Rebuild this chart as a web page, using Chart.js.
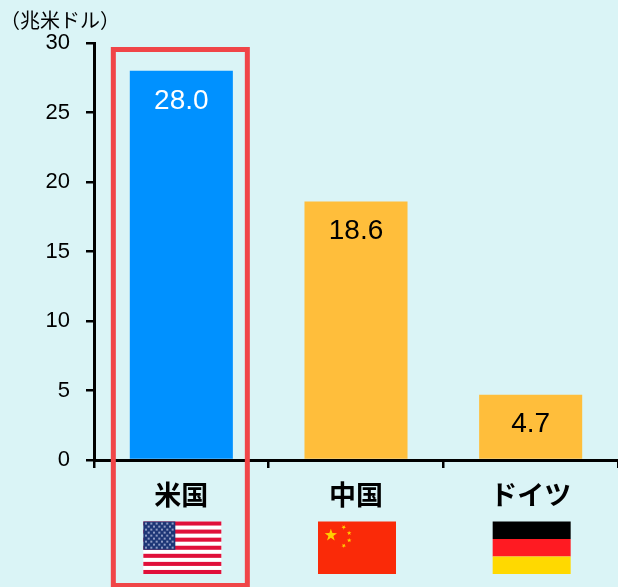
<!DOCTYPE html>
<html>
<head>
<meta charset="utf-8">
<script src="https://cdn.jsdelivr.net/npm/chart.js@4"></script>
<style>
  html, body { margin: 0; padding: 0; background: #daf4f6; }
  canvas { display: block; }
</style>
</head>
<body>
<canvas id="chart" width="618" height="587"></canvas>
<script>
const countries = ['米国', '中国', 'ドイツ'];
const gdpValues = [28.0, 18.6, 4.7];
const barColors = ['#0091ff', '#ffbe3b', '#ffbe3b'];
const labelColors = ['#ffffff', '#000000', '#000000'];
const unitLabel = '（兆米ドル）';
const numFont = '"Liberation Sans", Arial, sans-serif';
const jpFont = '"Noto Sans CJK JP", sans-serif';

// star centred on x,y
function star(ctx, x, y, r, rot) {
  ctx.beginPath();
  for (let i = 0; i < 10; i++) {
    const rr = i % 2 ? r * 0.4 : r;
    const a = rot - Math.PI / 2 + i * Math.PI / 5;
    ctx.lineTo(x + Math.cos(a) * rr, y + Math.sin(a) * rr);
  }
  ctx.closePath();
  ctx.fill();
}

function flagUS(ctx, x, y, w, h) {
  const sh = h / 13;
  ctx.fillStyle = '#ffffff';
  ctx.fillRect(x, y, w, h);
  ctx.fillStyle = '#e0103a';
  for (let i = 0; i < 13; i += 2) ctx.fillRect(x, y + i * sh, w, sh);
  const cw = w * 0.41, ch = sh * 7;
  ctx.fillStyle = '#1d3676';
  ctx.fillRect(x, y, cw, ch);
  ctx.fillStyle = '#8f9cc4';
  for (let r = 0; r < 9; r++) {
    const n = r % 2 ? 5 : 6;
    for (let c = 0; c < n; c++) {
      const sx = x + (c + (r % 2 ? 1 : 0.5)) * cw / 6;
      const sy = y + (r + 0.7) * ch / 9.4;
      ctx.fillRect(sx - 1, sy - 1, 2, 2);
    }
  }
}

function flagCN(ctx, x, y, w, h) {
  ctx.fillStyle = '#fa2a08';
  ctx.fillRect(x, y, w, h);
  ctx.fillStyle = '#ffd000';
  star(ctx, x + w * 0.165, y + h * 0.26, 6.5, 0);
  star(ctx, x + w * 0.33, y + h * 0.11, 2.4, 0.6);
  star(ctx, x + w * 0.4, y + h * 0.22, 2.4, 1.2);
  star(ctx, x + w * 0.4, y + h * 0.36, 2.4, 0);
  star(ctx, x + w * 0.33, y + h * 0.46, 2.4, 0.6);
}

function flagDE(ctx, x, y, w, h) {
  ctx.fillStyle = '#000000';
  ctx.fillRect(x, y, w, h / 3);
  ctx.fillStyle = '#ff1a22';
  ctx.fillRect(x, y + h / 3, w, h / 3);
  ctx.fillStyle = '#ffd900';
  ctx.fillRect(x, y + 2 * h / 3, w, h / 3);
}

const decorations = {
  id: 'decorations',
  afterDatasetsDraw(chart) {
    const ctx = chart.ctx;
    const xs = chart.scales.x;
    const meta = chart.getDatasetMeta(0);

    // value labels inside the bars
    ctx.save();
    ctx.font = '28px ' + numFont;
    ctx.textAlign = 'center';
    ctx.textBaseline = 'middle';
    meta.data.forEach((bar, i) => {
      ctx.fillStyle = labelColors[i];
      ctx.fillText(gdpValues[i].toFixed(1), bar.x, bar.y + 30);
    });

    // unit above the axis
    ctx.fillStyle = '#000000';
    ctx.font = '20px ' + jpFont;
    ctx.textAlign = 'left';
    ctx.fillText(unitLabel, 0, 20);

    // flags
    const draw = [flagUS, flagCN, flagDE];
    draw.forEach((fn, i) => {
      const cx = xs.getPixelForValue(i);
      fn(ctx, cx - 38, 521.5, 78, 52.5);
    });

    // highlight box round the first category
    const cx = xs.getPixelForValue(0);
    ctx.strokeStyle = '#f04548';
    ctx.lineWidth = 5;
    ctx.strokeRect(cx - 68, 49.5, 134, 536);
    ctx.restore();
  }
};

new Chart(document.getElementById('chart'), {
  type: 'bar',
  data: {
    labels: countries,
    datasets: [{
      data: gdpValues,
      backgroundColor: barColors,
      barPercentage: 0.59,
      categoryPercentage: 1
    }]
  },
  options: {
    responsive: false,
    animation: false,
    layout: { padding: { top: 43, right: 0, left: 0, bottom: 0 } },
    plugins: { legend: { display: false }, tooltip: { enabled: false } },
    scales: {
      x: {
        afterFit: (s) => { s.height = 127; },
        border: { color: '#000000', width: 3 },
        grid: { drawOnChartArea: false, color: '#000000', lineWidth: 2.5, tickLength: 8 },
        ticks: {
          color: '#000000',
          padding: 11,
          maxRotation: 0,
          font: { family: jpFont, size: 27, weight: 'bold' }
        }
      },
      y: {
        min: 0,
        max: 30,
        afterFit: (s) => { s.width = 94; },
        border: { color: '#000000', width: 3 },
        grid: { drawOnChartArea: false, color: '#000000', lineWidth: 2.5, tickLength: 8 },
        ticks: {
          stepSize: 5,
          color: '#000000',
          padding: 16,
          font: { family: numFont, size: 22 }
        }
      }
    }
  },
  plugins: [decorations]
});
</script>
</body>
</html>
